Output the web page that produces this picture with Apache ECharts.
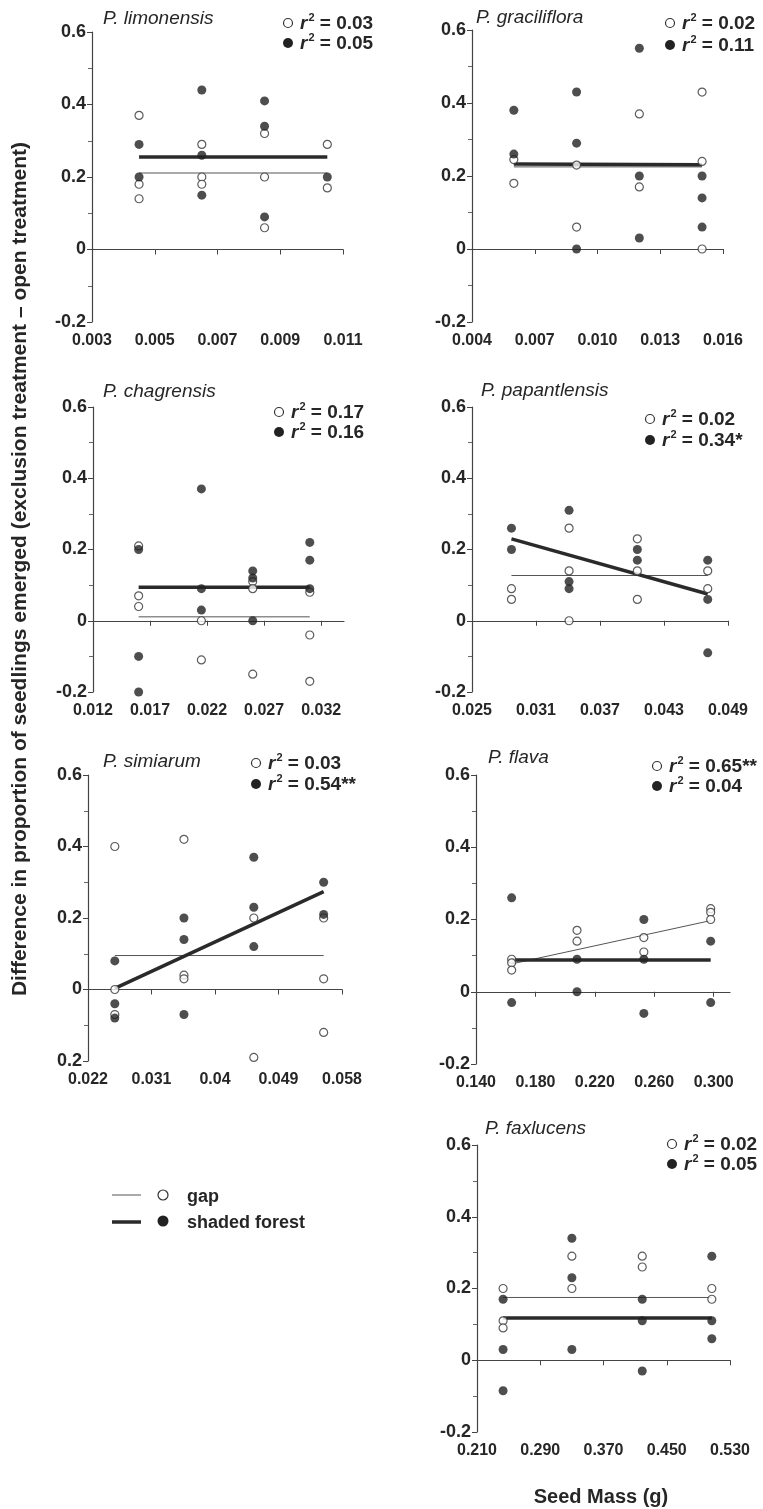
<!DOCTYPE html>
<html>
<head>
<meta charset="utf-8">
<script src="https://cdn.jsdelivr.net/npm/echarts@6/dist/echarts.min.js"></script>
<style>
    html, body { margin: 0; padding: 0; background: #fff; }
    #main { width: 763px; height: 1509px; }
</style>
</head>
<body>
<div id="main"></div>
<script>
// species shown in the seven panels
var species = ['P. limonensis', 'P. graciliflora', 'P. chagrensis', 'P. papantlensis', 'P. simiarum', 'P. flava', 'P. faxlucens'];

// x tick labels of each panel (seed mass, g)
var limTicks = ['0.003', '0.005', '0.007', '0.009', '0.011'];
var graTicks = ['0.004', '0.007', '0.010', '0.013', '0.016'];
var chaTicks = ['0.012', '0.017', '0.022', '0.027', '0.032'];
var papTicks = ['0.025', '0.031', '0.037', '0.043', '0.049'];
var simTicks = ['0.022', '0.031', '0.04', '0.049', '0.058'];
var flaTicks = ['0.140', '0.180', '0.220', '0.260', '0.300'];
var faxTicks = ['0.210', '0.290', '0.370', '0.450', '0.530'];

// r2 values: [gap, shaded forest]
var limR2 = ['0.03', '0.05'];
var graR2 = ['0.02', '0.11'];
var chaR2 = ['0.17', '0.16'];
var papR2 = ['0.02', '0.34*'];
var simR2 = ['0.03', '0.54**'];
var flaR2 = ['0.65**', '0.04'];
var faxR2 = ['0.02', '0.05'];

// points [seed mass, difference] - gap (open) and shaded forest (filled)
var limGap = [[0.0045, 0.37], [0.0045, 0.18], [0.0045, 0.14], [0.0065, 0.29], [0.0065, 0.20], [0.0065, 0.18], [0.0085, 0.32], [0.0085, 0.20], [0.0085, 0.06], [0.0105, 0.29], [0.0105, 0.17]];
var limShade = [[0.0045, 0.29], [0.0045, 0.20], [0.0065, 0.44], [0.0065, 0.26], [0.0065, 0.15], [0.0085, 0.41], [0.0085, 0.34], [0.0085, 0.09], [0.0105, 0.20]];
var limGapFit = [[0.0045, 0.211], [0.0105, 0.211]];
var limShadeFit = [[0.0045, 0.255], [0.0105, 0.255]];

var graGap = [[0.006, 0.245], [0.006, 0.18], [0.009, 0.23], [0.009, 0.06], [0.012, 0.37], [0.012, 0.17], [0.015, 0.43], [0.015, 0.24], [0.015, 0.0]];
var graShade = [[0.006, 0.38], [0.006, 0.26], [0.009, 0.43], [0.009, 0.29], [0.009, 0.0], [0.012, 0.55], [0.012, 0.20], [0.012, 0.03], [0.015, 0.20], [0.015, 0.14], [0.015, 0.06]];
var graGapFit = [[0.006, 0.225], [0.015, 0.225]];
var graShadeFit = [[0.006, 0.233], [0.015, 0.231]];

var chaGap = [[0.016, 0.21], [0.016, 0.07], [0.016, 0.04], [0.0215, 0.0], [0.0215, -0.11], [0.026, 0.11], [0.026, 0.09], [0.026, -0.15], [0.031, 0.08], [0.031, -0.04], [0.031, -0.17]];
var chaShade = [[0.016, 0.20], [0.016, -0.10], [0.016, -0.20], [0.0215, 0.37], [0.0215, 0.09], [0.0215, 0.03], [0.026, 0.14], [0.026, 0.12], [0.026, 0.0], [0.031, 0.22], [0.031, 0.17], [0.031, 0.09]];
var chaGapFit = [[0.016, 0.011], [0.031, 0.011]];
var chaShadeFit = [[0.016, 0.094], [0.031, 0.094]];

var papGap = [[0.0287, 0.09], [0.0287, 0.06], [0.0341, 0.26], [0.0341, 0.14], [0.0341, 0.0], [0.0405, 0.23], [0.0405, 0.14], [0.0405, 0.06], [0.0471, 0.14], [0.0471, 0.09]];
var papShade = [[0.0287, 0.26], [0.0287, 0.20], [0.0341, 0.31], [0.0341, 0.11], [0.0341, 0.09], [0.0405, 0.20], [0.0405, 0.17], [0.0471, 0.17], [0.0471, 0.06], [0.0471, -0.09]];
var papGapFit = [[0.0287, 0.127], [0.0471, 0.127]];
var papShadeFit = [[0.0287, 0.23], [0.0471, 0.075]];

var simGap = [[0.0258, 0.40], [0.0258, 0.0], [0.0258, -0.07], [0.0356, 0.42], [0.0356, 0.04], [0.0356, 0.03], [0.0455, 0.20], [0.0455, -0.19], [0.0554, 0.20], [0.0554, 0.03], [0.0554, -0.12]];
var simShade = [[0.0258, 0.08], [0.0258, -0.04], [0.0258, -0.08], [0.0356, 0.20], [0.0356, 0.14], [0.0356, -0.07], [0.0455, 0.37], [0.0455, 0.23], [0.0455, 0.12], [0.0554, 0.30], [0.0554, 0.21]];
var simGapFit = [[0.0258, 0.095], [0.0554, 0.095]];
var simShadeFit = [[0.0258, 0.003], [0.0554, 0.274]];

var flaGap = [[0.164, 0.09], [0.164, 0.08], [0.164, 0.06], [0.208, 0.17], [0.208, 0.14], [0.253, 0.15], [0.253, 0.11], [0.298, 0.23], [0.298, 0.22], [0.298, 0.20]];
var flaShade = [[0.164, 0.26], [0.164, -0.03], [0.208, 0.09], [0.208, 0.0], [0.253, 0.20], [0.253, 0.09], [0.253, -0.06], [0.298, 0.14], [0.298, -0.03]];
var flaGapFit = [[0.164, 0.077], [0.298, 0.197]];
var flaShadeFit = [[0.164, 0.088], [0.298, 0.088]];

var faxGap = [[0.243, 0.20], [0.243, 0.11], [0.243, 0.09], [0.330, 0.29], [0.330, 0.20], [0.419, 0.29], [0.419, 0.26], [0.507, 0.20], [0.507, 0.17]];
var faxShade = [[0.243, 0.17], [0.243, 0.03], [0.243, -0.085], [0.330, 0.34], [0.330, 0.23], [0.330, 0.03], [0.419, 0.17], [0.419, 0.11], [0.419, -0.03], [0.507, 0.29], [0.507, 0.11], [0.507, 0.06]];
var faxGapFit = [[0.243, 0.175], [0.507, 0.175]];
var faxShadeFit = [[0.243, 0.118], [0.507, 0.118]];

var FONT = '"Liberation Sans", Arial, sans-serif';
var INK = '#262626';

// layout of the panels: grid box, x max, title / r2 positions
var panels = [
    { ticks: limTicks, xMax: 0.011, r2: limR2, gap: limGap, shade: limShade, gapFit: limGapFit, shadeFit: limShadeFit,
      grid: [92, 32, 251, 290], title: [103, 19], key: [288, 23, 43] },
    { ticks: graTicks, xMax: 0.016, r2: graR2, gap: graGap, shade: graShade, gapFit: graGapFit, shadeFit: graShadeFit,
      grid: [472, 30, 251, 292], title: [476, 18], key: [670, 23, 45] },
    { ticks: chaTicks, xMax: 0.034, r2: chaR2, gap: chaGap, shade: chaShade, gapFit: chaGapFit, shadeFit: chaShadeFit,
      grid: [93, 407, 251, 285], title: [103, 392], key: [279, 412, 432] },
    { ticks: papTicks, xMax: 0.049, r2: papR2, gap: papGap, shade: papShade, gapFit: papGapFit, shadeFit: papShadeFit,
      grid: [472, 407, 256, 285], title: [481, 391], key: [650, 419, 440] },
    { ticks: simTicks, xMax: 0.058, r2: simR2, gap: simGap, shade: simShade, gapFit: simGapFit, shadeFit: simShadeFit,
      grid: [88, 775, 254, 286], title: [103, 762], key: [256, 763, 784], minusLost: true },
    { ticks: flaTicks, xMax: 0.311, r2: flaR2, gap: flaGap, shade: flaShade, gapFit: flaGapFit, shadeFit: flaShadeFit,
      grid: [476, 775, 254, 289], title: [488, 758], key: [657, 766, 786] },
    { ticks: faxTicks, xMax: 0.530, r2: faxR2, gap: faxGap, shade: faxShade, gapFit: faxGapFit, shadeFit: faxShadeFit,
      grid: [477, 1145, 253, 287], title: [485, 1129], key: [672, 1144, 1164] }
];

var grids = [], xAxes = [], yAxes = [], series = [], graphics = [];

function r2Text(x, y, val) {
    return {
        type: 'text', x: x, y: y,
        style: {
            text: '{i|r}{s|2}{n| = ' + val + '}',
            verticalAlign: 'middle',
            rich: {
                i: { fontFamily: FONT, fontSize: 19, fontWeight: 'bold', fontStyle: 'italic', fill: INK, lineHeight: 21, verticalAlign: 'bottom' },
                s: { fontFamily: FONT, fontSize: 11, fontWeight: 'bold', fill: INK, lineHeight: 21, verticalAlign: 'top', padding: [0, 0, 0, 1] },
                n: { fontFamily: FONT, fontSize: 19, fontWeight: 'bold', fill: INK, lineHeight: 21, verticalAlign: 'bottom' }
            }
        }
    };
}

panels.forEach(function (p, i) {
    var tickVals = p.ticks.map(Number);
    grids.push({ left: p.grid[0], top: p.grid[1], width: p.grid[2], height: p.grid[3] });
    xAxes.push({
        type: 'value', gridIndex: i, min: tickVals[0], max: p.xMax,
        axisLine: { show: true, lineStyle: { color: '#444', width: 1.2 } },
        axisTick: { show: true, customValues: tickVals, length: 5, lineStyle: { color: '#444' } },
        axisLabel: {
            customValues: tickVals, margin: 11,
            fontFamily: FONT, fontSize: 16, fontWeight: 'bold', color: INK,
            formatter: function (v) {
                for (var k = 0; k < tickVals.length; k++) {
                    if (Math.abs(tickVals[k] - v) < 1e-9) return p.ticks[k];
                }
                return '';
            }
        },
        splitLine: { show: false }
    });
    yAxes.push({
        type: 'value', gridIndex: i, min: -0.2, max: 0.6, interval: 0.2,
        axisLine: { show: true, lineStyle: { color: '#444', width: 1.2 } },
        axisTick: { show: true, length: 5, lineStyle: { color: '#444' } },
        minorTick: { show: true, splitNumber: 2, length: 4, lineStyle: { color: '#666' } },
        axisLabel: {
            margin: 6, fontFamily: FONT, fontSize: 18, fontWeight: 'bold', color: INK,
            formatter: function (v) {
                var s = String(Math.round(v * 10) / 10);
                if (p.minusLost && s === '-0.2') s = '0.2';
                return s;
            }
        },
        splitLine: { show: false },
        minorSplitLine: { show: false }
    });

    series.push({
        type: 'line', xAxisIndex: i, yAxisIndex: i, data: p.gapFit, symbol: 'none', z: 2,
        lineStyle: { color: '#555', width: 1 }
    });
    series.push({
        type: 'line', xAxisIndex: i, yAxisIndex: i, data: p.shadeFit, symbol: 'none', z: 2,
        lineStyle: { color: '#2a2a2a', width: 3.5 }
    });
    series.push({
        type: 'scatter', xAxisIndex: i, yAxisIndex: i, data: p.gap, symbol: 'circle', symbolSize: 8, z: 3,
        itemStyle: { color: '#fff', borderColor: '#333', borderWidth: 1.2 }
    });
    series.push({
        type: 'scatter', xAxisIndex: i, yAxisIndex: i, data: p.shade, symbol: 'circle', symbolSize: 9, z: 4,
        itemStyle: { color: '#222' }
    });

    // species name
    graphics.push({
        type: 'text', x: p.title[0], y: p.title[1],
        style: { text: species[i], fontFamily: FONT, fontSize: 19, fontStyle: 'italic', fill: INK, verticalAlign: 'middle' }
    });
    // r2 key
    graphics.push({
        type: 'circle', shape: { cx: p.key[0], cy: p.key[1], r: 4.5 },
        style: { fill: '#fff', stroke: '#333', lineWidth: 1.2 }
    });
    graphics.push({
        type: 'circle', shape: { cx: p.key[0], cy: p.key[2], r: 5 },
        style: { fill: '#222' }
    });
    graphics.push(r2Text(p.key[0] + 12, p.key[1], p.r2[0]));
    graphics.push(r2Text(p.key[0] + 12, p.key[2], p.r2[1]));
});

// shared axis titles
graphics.push({
    type: 'text', x: 20, y: 569, rotation: Math.PI / 2,
    style: {
        text: 'Difference in proportion of seedlings emerged (exclusion treatment \u2013 open treatment)',
        fontFamily: FONT, fontSize: 21, fontWeight: 'bold', fill: INK, align: 'center', verticalAlign: 'middle'
    }
});
graphics.push({
    type: 'text', x: 601, y: 1497,
    style: { text: 'Seed Mass (g)', fontFamily: FONT, fontSize: 20, fontWeight: 'bold', fill: INK, align: 'center', verticalAlign: 'middle' }
});

// legend
graphics.push({ type: 'line', shape: { x1: 112, y1: 1195, x2: 141, y2: 1195 }, style: { stroke: '#555', lineWidth: 1 } });
graphics.push({ type: 'circle', shape: { cx: 163, cy: 1195, r: 5 }, style: { fill: '#fff', stroke: '#333', lineWidth: 1.2 } });
graphics.push({ type: 'text', x: 187, y: 1197, style: { text: 'gap', fontFamily: FONT, fontSize: 18, fontWeight: 'bold', fill: INK, verticalAlign: 'middle' } });
graphics.push({ type: 'line', shape: { x1: 112, y1: 1222, x2: 141, y2: 1222 }, style: { stroke: '#2a2a2a', lineWidth: 3.5 } });
graphics.push({ type: 'circle', shape: { cx: 163, cy: 1221, r: 5.5 }, style: { fill: '#222' } });
graphics.push({ type: 'text', x: 187, y: 1223, style: { text: 'shaded forest', fontFamily: FONT, fontSize: 18, fontWeight: 'bold', fill: INK, verticalAlign: 'middle' } });

var myChart = echarts.init(document.getElementById('main'));
myChart.setOption({
    animation: false,
    backgroundColor: '#fff',
    grid: grids,
    xAxis: xAxes,
    yAxis: yAxes,
    series: series,
    graphic: graphics
});
</script>
</body>
</html>
